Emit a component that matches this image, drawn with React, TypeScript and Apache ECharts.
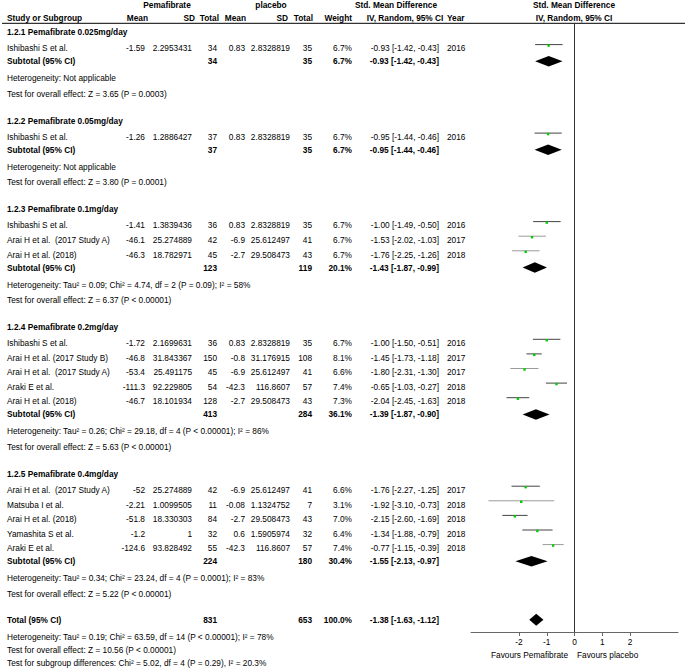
import React, { useEffect, useRef } from "react";
import * as echarts from "echarts";

// ---------- data ----------
const groupTitles = [
  "1.2.1 Pemafibrate 0.025mg/day",
  "1.2.2 Pemafibrate 0.05mg/day",
  "1.2.3 Pemafibrate 0.1mg/day",
  "1.2.4 Pemafibrate 0.2mg/day",
  "1.2.5 Pemafibrate 0.4mg/day",
];
const studyNames = [
  "Ishibashi S et al.",
  "Ishibashi S et al.",
  "Ishibashi S et al.",
  "Arai H et al.  (2017 Study A)",
  "Arai H et al. (2018)",
  "Ishibashi S et al.",
  "Arai H et al. (2017 Study B)",
  "Arai H et al.  (2017 Study A)",
  "Araki E et al.",
  "Arai H et al. (2018)",
  "Arai H et al.  (2017 Study A)",
  "Matsuba I et al.",
  "Arai H et al. (2018)",
  "Yamashita S et al.",
  "Araki E et al.",
];
const studyGroup = [0, 1, 2, 2, 2, 3, 3, 3, 3, 3, 4, 4, 4, 4, 4];
const pemaMean = [-1.59, -1.26, -1.41, -46.1, -46.3, -1.72, -46.8, -53.4, -111.3, -46.7, -52, -2.21, -51.8, -1.2, -124.6];
const pemaSD = [2.2953431, 1.2886427, 1.3839436, 25.274889, 18.782971, 2.1699631, 31.843367, 25.491175, 92.229805, 18.101934, 25.274889, 1.0099505, 18.330303, 1, 93.828492];
const pemaN = [34, 37, 36, 42, 45, 36, 150, 45, 54, 128, 42, 11, 84, 32, 55];
const placMean = [0.83, 0.83, 0.83, -6.9, -2.7, 0.83, -0.8, -6.9, -42.3, -2.7, -6.9, -0.08, -2.7, 0.6, -42.3];
const placSD = [2.8328819, 2.8328819, 2.8328819, 25.612497, 29.508473, 2.8328819, 31.176915, 25.612497, 116.8607, 29.508473, 25.612497, 1.1324752, 29.508473, 1.5905974, 116.8607];
const placN = [35, 35, 35, 41, 43, 35, 108, 41, 57, 43, 41, 7, 43, 32, 57];
const studyWeight = [6.7, 6.7, 6.7, 6.7, 6.7, 6.7, 8.1, 6.6, 7.4, 7.3, 6.6, 3.1, 7.0, 6.4, 7.4];
const studySmd = [-0.93, -0.95, -1.0, -1.53, -1.76, -1.0, -1.45, -1.8, -0.65, -2.04, -1.76, -1.92, -2.15, -1.34, -0.77];
const studyLow = [-1.42, -1.44, -1.49, -2.02, -2.25, -1.5, -1.73, -2.31, -1.03, -2.45, -2.27, -3.1, -2.6, -1.88, -1.15];
const studyHigh = [-0.43, -0.46, -0.5, -1.03, -1.26, -0.51, -1.18, -1.3, -0.27, -1.63, -1.25, -0.73, -1.69, -0.79, -0.39];
const studyYear = [2016, 2016, 2016, 2017, 2018, 2016, 2017, 2017, 2018, 2018, 2017, 2018, 2018, 2018, 2018];

const subPemaN = [34, 37, 123, 413, 224];
const subPlacN = [35, 35, 119, 284, 180];
const subWeight = [6.7, 6.7, 20.1, 36.1, 30.4];
const subSmd = [-0.93, -0.95, -1.43, -1.39, -1.55];
const subLow = [-1.42, -1.44, -1.87, -1.87, -2.13];
const subHigh = [-0.43, -0.46, -0.99, -0.9, -0.97];
const subHet = [
  "Heterogeneity: Not applicable",
  "Heterogeneity: Not applicable",
  "Heterogeneity: Tau² = 0.09; Chi² = 4.74, df = 2 (P = 0.09); I² = 58%",
  "Heterogeneity: Tau² = 0.26; Chi² = 29.18, df = 4 (P < 0.00001); I² = 86%",
  "Heterogeneity: Tau² = 0.34; Chi² = 23.24, df = 4 (P = 0.0001); I² = 83%",
];
const subTest = [
  "Test for overall effect: Z = 3.65 (P = 0.0003)",
  "Test for overall effect: Z = 3.80 (P = 0.0001)",
  "Test for overall effect: Z = 6.37 (P < 0.00001)",
  "Test for overall effect: Z = 5.63 (P < 0.00001)",
  "Test for overall effect: Z = 5.22 (P < 0.00001)",
];

const totalPemaN = 831;
const totalPlacN = 653;
const totalWeight = 100.0;
const totalSmd = -1.38;
const totalLow = -1.63;
const totalHigh = -1.12;
const totalNotes = [
  "Heterogeneity: Tau² = 0.19; Chi² = 63.59, df = 14 (P < 0.00001); I² = 78%",
  "Test for overall effect: Z = 10.56 (P < 0.00001)",
  "Test for subgroup differences: Chi² = 5.02, df = 4 (P = 0.29), I² = 20.3%",
];

const axisTicks = [-2, -1, 0, 1, 2];
const favoursLeft = "Favours Pemafibrate";
const favoursRight = "Favours placebo";

// ---------- styles / layout ----------
const lightLineStudies = new Set([3, 4, 7, 11, 14]);
const FONT = "'Liberation Sans', Arial, Helvetica, sans-serif";
const FS = 8.3;
const W = 685;
const H = 669;
const AXIS_Y = 632;
const RULE_Y = 23.3;
const STEP = {
  firstTitle: 32.3,
  titleToStudy: 16,
  studyToStudy: 14.6,
  studyToSub: 13,
  subToHet: 17,
  hetToTest: 15.5,
  testToTitle: 27,
  testToTotal: 26,
  totalToNote: 17.5,
  noteToNote: 13,
};
const COL = {
  name: 7,
  pMean: 145,
  pSD: 192,
  pN: 217,
  cMean: 245,
  cSD: 290,
  cN: 312,
  weight: 352,
  ci: 439,
  year: 447,
};

const fmtCI = (m: number, l: number, h: number) =>
  `${m.toFixed(2)} [${l.toFixed(2)}, ${h.toFixed(2)}]`;

function txt(text: string, x: number, y: number, align: string, bold = false, color = "#000") {
  return {
    type: "text",
    x,
    y,
    silent: true,
    style: {
      text,
      fill: color,
      fontFamily: FONT,
      fontSize: FS,
      fontWeight: bold ? "bold" : "normal",
      align,
      verticalAlign: "middle",
    },
  };
}

export default function App() {
  const ref = useRef<HTMLDivElement>(null);

  useEffect(() => {
    document.body.style.margin = "0";
    if (!ref.current) return;
    const chart = echarts.init(ref.current, null, { renderer: "svg" });

    const graphics: any[] = [];
    const ciData: any[] = [];
    const diamondData: any[] = [];

    // headers
    graphics.push(txt("Pemafibrate", 167, 5, "center", true));
    graphics.push(txt("placebo", 271, 5, "center", true));
    graphics.push(txt("Std. Mean Difference", 396, 5, "center", true));
    graphics.push(txt("Std. Mean Difference", 574, 5, "center", true));
    const hy = 17.5;
    graphics.push(txt("Study or Subgroup", COL.name, hy, "left", true));
    graphics.push(txt("Mean", 148, hy, "right", true));
    graphics.push(txt("SD", 195, hy, "right", true));
    graphics.push(txt("Total", 219, hy, "right", true));
    graphics.push(txt("Mean", 246, hy, "right", true));
    graphics.push(txt("SD", 288, hy, "right", true));
    graphics.push(txt("Total", 313, hy, "right", true));
    graphics.push(txt("Weight", 352, hy, "right", true));
    graphics.push(txt("IV, Random, 95% CI", 405, hy, "center", true));
    graphics.push(txt("Year", COL.year, hy, "left", true));
    graphics.push(txt("IV, Random, 95% CI", 574, hy, "center", true));
    graphics.push({
      type: "line",
      silent: true,
      shape: { x1: 2, y1: RULE_Y, x2: W, y2: RULE_Y },
      style: { stroke: "#000", lineWidth: 1 },
    });

    // rows
    let y = STEP.firstTitle;
    groupTitles.forEach((title, g) => {
      if (g > 0) y += STEP.testToTitle;
      graphics.push(txt(title, COL.name, y, "left", true));
      const idx = studyGroup.map((gg, i) => (gg === g ? i : -1)).filter((i) => i >= 0);
      idx.forEach((i, k) => {
        y += k === 0 ? STEP.titleToStudy : STEP.studyToStudy;
        graphics.push(txt(studyNames[i], COL.name, y, "left"));
        graphics.push(txt(String(pemaMean[i]), COL.pMean, y, "right"));
        graphics.push(txt(String(pemaSD[i]), COL.pSD, y, "right"));
        graphics.push(txt(String(pemaN[i]), COL.pN, y, "right"));
        graphics.push(txt(String(placMean[i]), COL.cMean, y, "right"));
        graphics.push(txt(String(placSD[i]), COL.cSD, y, "right"));
        graphics.push(txt(String(placN[i]), COL.cN, y, "right"));
        graphics.push(txt(`${studyWeight[i].toFixed(1)}%`, COL.weight, y, "right"));
        graphics.push(txt(fmtCI(studySmd[i], studyLow[i], studyHigh[i]), COL.ci, y, "right"));
        graphics.push(txt(String(studyYear[i]), COL.year, y, "left"));
        ciData.push([studyLow[i], studyHigh[i], studySmd[i], y, lightLineStudies.has(i) ? 1 : 0]);
      });
      y += STEP.studyToSub;
      graphics.push(txt("Subtotal (95% CI)", COL.name, y, "left", true));
      graphics.push(txt(String(subPemaN[g]), COL.pN, y, "right", true));
      graphics.push(txt(String(subPlacN[g]), COL.cN, y, "right", true));
      graphics.push(txt(`${subWeight[g].toFixed(1)}%`, COL.weight, y, "right", true));
      graphics.push(txt(fmtCI(subSmd[g], subLow[g], subHigh[g]), COL.ci, y, "right", true));
      diamondData.push([subLow[g], subHigh[g], subSmd[g], y, 10.5]);
      y += STEP.subToHet;
      graphics.push(txt(subHet[g], COL.name, y, "left"));
      y += STEP.hetToTest;
      graphics.push(txt(subTest[g], COL.name, y, "left"));
    });
    y += STEP.testToTotal;
    graphics.push(txt("Total (95% CI)", COL.name, y, "left", true));
    graphics.push(txt(String(totalPemaN), COL.pN, y, "right", true));
    graphics.push(txt(String(totalPlacN), COL.cN, y, "right", true));
    graphics.push(txt(`${totalWeight.toFixed(1)}%`, COL.weight, y, "right", true));
    graphics.push(txt(fmtCI(totalSmd, totalLow, totalHigh), COL.ci, y, "right", true));
    diamondData.push([totalLow, totalHigh, totalSmd, y, 12]);
    totalNotes.forEach((n, k) => {
      y += k === 0 ? STEP.totalToNote : STEP.noteToNote;
      graphics.push(txt(n, COL.name, y, "left"));
    });

    // favours labels
    graphics.push(txt(favoursLeft, 568, 655, "right"));
    graphics.push(txt(favoursRight, 577, 655, "left"));

    chart.setOption({
      animation: false,
      grid: { left: 471, right: W - 678, top: 0, height: AXIS_Y },
      xAxis: {
        type: "value",
        min: -3.73,
        max: 3.73,
        splitLine: { show: false },
        axisLine: { show: true, onZero: false, lineStyle: { color: "#666", width: 1 } },
        axisTick: { show: true, customValues: axisTicks, length: 4, lineStyle: { color: "#666" } },
        axisLabel: {
          customValues: axisTicks,
          fontSize: FS,
          fontFamily: FONT,
          color: "#000",
          margin: 6,
          formatter: (v: number) => String(v),
        },
      },
      yAxis: {
        type: "value",
        min: 0,
        max: AXIS_Y,
        inverse: true,
        show: false,
      },
      series: [
        {
          type: "line",
          data: [
            [0, RULE_Y],
            [0, AXIS_Y],
          ],
          symbol: "none",
          silent: true,
          lineStyle: { color: "#333", width: 1 },
        },
        {
          type: "custom",
          clip: false,
          silent: true,
          data: ciData,
          encode: { x: [0, 1, 2], y: 3 },
          renderItem: (params: any, api: any) => {
            const yy = api.value(3);
            const a = api.coord([api.value(0), yy]);
            const b = api.coord([api.value(1), yy]);
            const m = api.coord([api.value(2), yy]);
            const light = api.value(4) === 1;
            return {
              type: "group",
              children: [
                {
                  type: "line",
                  shape: { x1: a[0], y1: a[1] - 3.7, x2: b[0], y2: b[1] - 3.7 },
                  style: { stroke: light ? "#9a9a9a" : "#444", lineWidth: 1 },
                },
                {
                  type: "rect",
                  shape: { x: m[0] - 1.2, y: m[1] - 3.9, width: 2.4, height: 2.4 },
                  style: { fill: "#00cc00" },
                },
              ],
            };
          },
        },
        {
          type: "custom",
          clip: false,
          silent: true,
          data: diamondData,
          encode: { x: [0, 1, 2], y: 3 },
          renderItem: (params: any, api: any) => {
            const yy = api.value(3);
            const h = api.value(4) / 2;
            const a = api.coord([api.value(0), yy]);
            const b = api.coord([api.value(1), yy]);
            const m = api.coord([api.value(2), yy]);
            return {
              type: "polygon",
              shape: {
                points: [
                  [a[0], a[1]],
                  [m[0], m[1] - h],
                  [b[0], b[1]],
                  [m[0], m[1] + h],
                ],
              },
              style: { fill: "#000" },
            };
          },
        },
      ],
      graphic: graphics,
    });

    return () => chart.dispose();
  }, []);

  return <div ref={ref} style={{ width: W, height: H }} />;
}
